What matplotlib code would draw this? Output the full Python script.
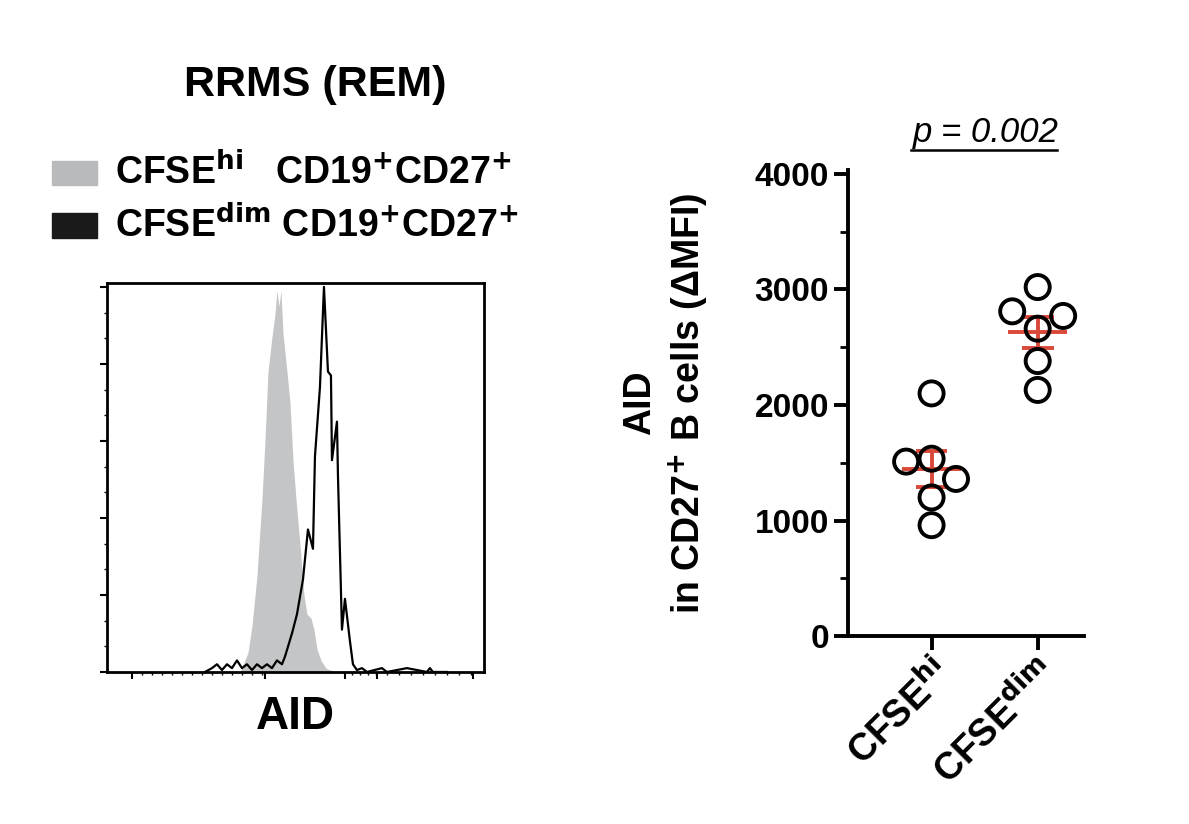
import matplotlib
matplotlib.use("Agg")
import matplotlib.pyplot as plt
import numpy as np

plt.rcParams['font.family'] = 'Liberation Sans'

# histogram data (channel, normalized count)
gray_x = [133,141,145,150,155,158,161,165,168,170,172,174,176,180,183,186,189,193,197,200,204,207,210,214,219,228]
gray_y = [0,.05,.12,.25,.45,.6,.78,.87,.93,.99,.95,.99,.88,.78,.7,.55,.45,.33,.2,.15,.14,.11,.06,.03,.01,0]
black_x = [98,105,110,115,120,125,130,135,140,145,150,155,160,165,170,175,178,180,185,190,196,201,206,208,213,217,221,224,225,230,231,235,238,243,246,250,255,260,275,280,300,320,323,326,340]
black_y = [0,.01,.02,.005,.02,.01,.03,.01,.02,.005,.02,.01,.02,.01,.03,.02,.04,.057,.1,.15,.24,.37,.32,.56,.74,1.0,.78,.77,.55,.65,.51,.11,.19,.08,.02,.005,.01,0,.01,0,.01,0,.01,0,0]

# scatter data
groups = ['CFSE$^{\\mathbf{hi}}$', 'CFSE$^{\\mathbf{dim}}$']
hi_x_off = [0, -0.24, 0, 0.23, 0, 0]
hi_vals = [2100, 1510, 1535, 1360, 1200, 960]
dim_x_off = [0, -0.24, 0.24, 0, 0, 0]
dim_vals = [3020, 2810, 2770, 2660, 2380, 2130]

fig = plt.figure(figsize=(11.89, 8.24), dpi=100)

# histogram panel
ax = fig.add_axes([0.090, 0.1845, 0.317, 0.472])
ax.fill_between(gray_x, gray_y, color='#c4c5c6', lw=0)
ax.plot(black_x, black_y, color='black', lw=1.6)
ax.set_xlim(0, 377)
ax.set_ylim(0, 1.01)
for s in ax.spines.values():
    s.set_linewidth(2)
maj = [25, 158, 238, 270, 366]
ax.set_xticks(maj)
ax.set_xticks(list(np.arange(35, 158, 10)) + list(range(245, 270, 8)) + list(range(280, 366, 12)), minor=True)
ax.set_xticklabels([])
ax.set_yticks(np.linspace(0, 1, 6))
ax.set_yticks(np.linspace(0, 1, 16), minor=True)
ax.set_yticklabels([])
ax.tick_params(which='major', length=5, width=1.5)
ax.tick_params(which='minor', length=2.5, width=1)
ax.set_xlabel('AID', fontsize=33, fontweight='bold', labelpad=8)

fig.text(0.265, 0.897, 'RRMS (REM)', fontsize=31, fontweight='bold', ha='center', va='center')
fig.patches.append(matplotlib.patches.Rectangle((0.044, 0.775), 0.038, 0.030, transform=fig.transFigure, color='#b9babb'))
fig.patches.append(matplotlib.patches.Rectangle((0.044, 0.711), 0.038, 0.030, transform=fig.transFigure, color='#1a1a1a'))
fig.text(0.097, 0.790, 'CFSE$^{\\mathbf{hi}}$   CD19$^{\\mathbf{+}}$CD27$^{\\mathbf{+}}$', fontsize=27, fontweight='bold', va='center')
fig.text(0.097, 0.726, 'CFSE$^{\\mathbf{dim}}$ CD19$^{\\mathbf{+}}$CD27$^{\\mathbf{+}}$', fontsize=27, fontweight='bold', va='center')

# scatter panel
ax2 = fig.add_axes([0.713, 0.228, 0.199, 0.566])
for i, (offs, vals) in enumerate([(hi_x_off, hi_vals), (dim_x_off, dim_vals)]):
    ax2.scatter(np.array(offs) + i, vals, s=300, facecolors='none', edgecolors='black', linewidths=2.8, zorder=3)
    m = np.mean(vals)
    sem = np.std(vals, ddof=1) / np.sqrt(len(vals))
    ax2.hlines(m, i - 0.28, i + 0.28, color='#d9493a', lw=2.8, zorder=2)
    ax2.hlines([m - sem, m + sem], i - 0.15, i + 0.15, color='#d9493a', lw=2.8, zorder=2)
    ax2.vlines(i, m - sem, m + sem, color='#d9493a', lw=2.8, zorder=2)
ax2.set_xlim(-0.79, 1.44)
ax2.set_ylim(0, 4035)
ax2.spines['top'].set_visible(False)
ax2.spines['right'].set_visible(False)
for s in ['left', 'bottom']:
    ax2.spines[s].set_linewidth(2.8)
ax2.set_yticks([0, 1000, 2000, 3000, 4000])
ax2.set_yticks(np.arange(0, 4001, 500), minor=True)
ax2.tick_params(axis='y', which='major', length=10, width=2.8, labelsize=24)
ax2.tick_params(axis='y', which='minor', length=6, width=2)
for t in ax2.get_yticklabels():
    t.set_fontweight('bold')
ax2.set_xticks([0, 1])
ax2.set_xticklabels(groups, rotation=45, ha='right', rotation_mode='anchor', fontsize=27, fontweight='bold')
ax2.tick_params(axis='x', length=10, width=2.8)
ax2.set_ylabel('AID\nin CD27$^{\\mathbf{+}}$ B cells (ΔMFI)', fontsize=27, fontweight='bold', labelpad=32, linespacing=1.25)

fig.text(0.829, 0.839, 'p = 0.002', fontsize=25, style='italic', ha='center', va='center')
fig.lines.append(matplotlib.lines.Line2D([0.766, 0.889], [0.818, 0.818], transform=fig.transFigure, color='black', lw=1.8))

fig.savefig('out.png', dpi=100)
